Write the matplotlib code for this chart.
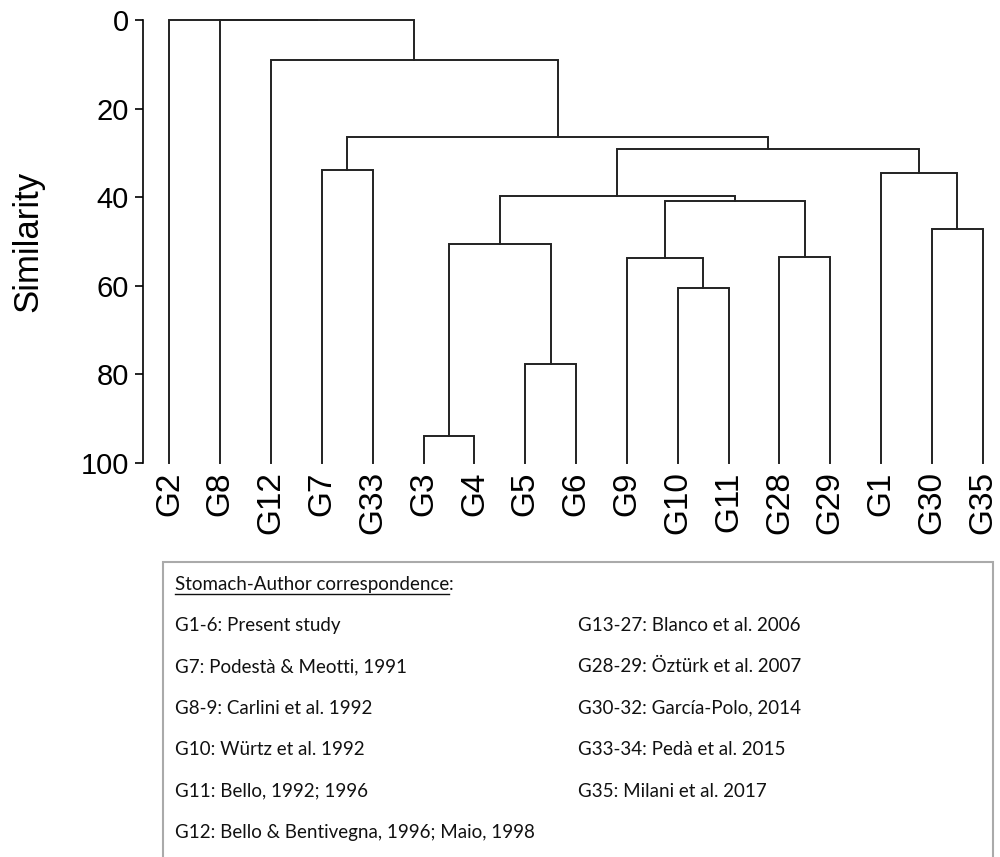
import matplotlib
matplotlib.use("Agg")
import matplotlib.pyplot as plt
from matplotlib.patches import Rectangle

# leaf order along the x axis
leaves = ["G2", "G8", "G12", "G7", "G33", "G3", "G4", "G5", "G6",
          "G9", "G10", "G11", "G28", "G29", "G1", "G30", "G35"]

# merges: (left node, right node, similarity); new nodes are numbered from len(leaves)
merge_left = [5, 7, 17, 10, 9, 12, 21, 19, 15, 14, 24, 3, 28, 2, 1, 0]
merge_right = [6, 8, 18, 11, 20, 13, 22, 23, 16, 25, 26, 4, 27, 29, 30, 31]
merge_height = [94.0, 77.6, 50.5, 60.5, 53.7, 53.4, 40.8, 39.8,
                47.1, 34.6, 29.2, 33.9, 26.5, 9.0, 0.0, 0.0]

legend_title = "Stomach-Author correspondence"
legend_left = ["G1-6: Present study",
               "G7: Podestà & Meotti, 1991",
               "G8-9: Carlini et al. 1992",
               "G10: Würtz et al. 1992",
               "G11: Bello, 1992; 1996",
               "G12: Bello & Bentivegna, 1996; Maio, 1998"]
legend_right = ["G13-27: Blanco et al. 2006",
                "G28-29: Öztürk et al. 2007",
                "G30-32: García-Polo, 2014",
                "G33-34: Pedà et al. 2015",
                "G35: Milani et al. 2017"]

fig = plt.figure(figsize=(10, 8.57), dpi=100)
ax = fig.add_axes([0.143, 0.4597, 0.855, 0.5170])

# node positions: leaves at 0..n-1, clusters at the midpoint of their children
xpos = {i: float(i) for i in range(len(leaves))}
ypos = {i: 100.0 for i in range(len(leaves))}
lc = "#222222"
for k in range(len(merge_left)):
    a, b, h = merge_left[k], merge_right[k], merge_height[k]
    xa, xb = xpos[a], xpos[b]
    ax.plot([xa, xa, xb, xb], [ypos[a], h, h, ypos[b]], color=lc, lw=1.4,
            solid_joinstyle="miter", clip_on=False)
    node = len(leaves) + k
    xpos[node] = (xa + xb) / 2
    ypos[node] = h

ax.set_xlim(-0.52, 16.3)
ax.set_ylim(100, 0)
ax.set_yticks([0, 20, 40, 60, 80, 100])
ax.set_xticks(range(len(leaves)))
ax.set_xticklabels(leaves, rotation=90, fontsize=24, family="Liberation Sans")
ax.tick_params(axis="x", length=0, pad=6)
ax.tick_params(axis="y", length=6, width=1.2, direction="out", pad=4,
               labelsize=21)
for lab in ax.get_yticklabels():
    lab.set_family("Liberation Sans")
for s in ["top", "right", "bottom"]:
    ax.spines[s].set_visible(False)
ax.spines["left"].set_linewidth(1.2)
ax.set_ylabel("Similarity", fontsize=25, family="Liberation Sans", labelpad=26)

# legend box below the dendrogram
box = Rectangle((0.163, -0.05), 0.830, 0.394, transform=fig.transFigure,
                facecolor="white", edgecolor="#aaaaaa", lw=1.5)
fig.add_artist(box)

font = "Lato"
fs = 13.5
tc = "#111111"
H = 857.0
row_y = [1 - 590 / H]
for i in range(6):
    row_y.append(1 - (631 + 41.4 * i) / H)

title = fig.text(0.175, row_y[0], legend_title, fontsize=fs, family=font,
                 va="baseline", color=tc)
fig.canvas.draw()
bb = title.get_window_extent()
x0, x1 = bb.x0 / fig.bbox.width, bb.x1 / fig.bbox.width
uy = row_y[0] - 3.5 / H
fig.add_artist(plt.Line2D([x0, x1], [uy, uy], transform=fig.transFigure,
                          color=tc, lw=1.0))
fig.text(x1, row_y[0], ":", fontsize=fs, family=font, va="baseline", color=tc)

for i, t in enumerate(legend_left):
    fig.text(0.175, row_y[i + 1], t, fontsize=fs, family=font, va="baseline",
             color=tc)
for i, t in enumerate(legend_right):
    fig.text(0.578, row_y[i + 1], t, fontsize=fs, family=font, va="baseline",
             color=tc)

fig.savefig("out.png", dpi=100)
